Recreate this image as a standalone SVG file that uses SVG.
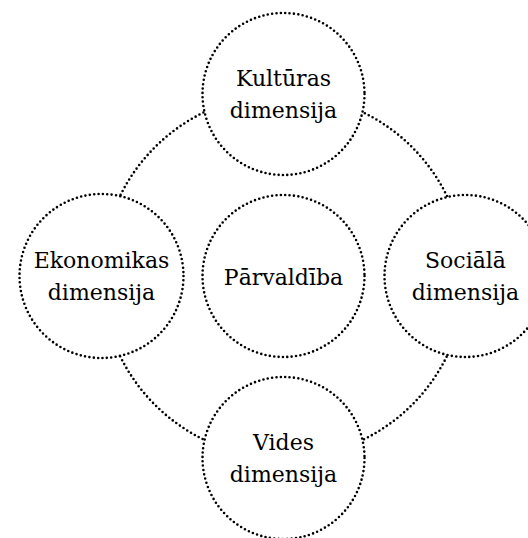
<svg xmlns="http://www.w3.org/2000/svg" width="528" height="538" viewBox="0 0 528 538">
  <style>
    .dot { fill: none; stroke: #000; stroke-width: 2.6; stroke-linecap: round; stroke-dasharray: 0 4.4; }
    .node { fill: #fff; stroke: #000; stroke-width: 2.6; stroke-linecap: round; stroke-dasharray: 0 4.4; }
    .lbl { font-family: "DejaVu Serif", "Liberation Serif", serif; font-size: 22px; fill: #000; text-anchor: middle; }
  </style>
  <rect width="528" height="538" fill="#fff"/>
  <g id="connectors">
    <circle class="dot" cx="283.5" cy="276" r="182"/>
  </g>
  <g id="node-kulturas">
    <circle class="node" cx="283.5" cy="94" r="81"/>
    <text class="lbl" x="283.5" y="86">Kultūras</text>
    <text class="lbl" x="283.5" y="118">dimensija</text>
  </g>
  <g id="node-ekonomikas">
    <circle class="node" cx="101.5" cy="276" r="82"/>
    <text class="lbl" x="101.5" y="268">Ekonomikas</text>
    <text class="lbl" x="101.5" y="300">dimensija</text>
  </g>
  <g id="node-parvaldiba">
    <circle class="node" cx="283.5" cy="276" r="81"/>
    <text class="lbl" x="283.5" y="285">Pārvaldība</text>
  </g>
  <g id="node-sociala">
    <circle class="node" cx="465.5" cy="276" r="81"/>
    <text class="lbl" x="465.5" y="268">Sociālā</text>
    <text class="lbl" x="465.5" y="300">dimensija</text>
  </g>
  <g id="node-vides">
    <circle class="node" cx="283.5" cy="458" r="81"/>
    <text class="lbl" x="283.5" y="450">Vides</text>
    <text class="lbl" x="283.5" y="482">dimensija</text>
  </g>
</svg>
